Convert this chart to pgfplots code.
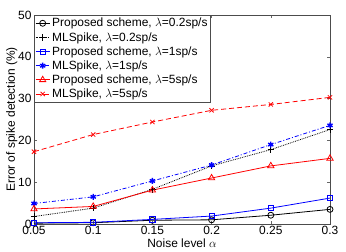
\documentclass[border=0pt]{standalone}
\usepackage{fontspec}
\setmainfont{Liberation Sans}
\usepackage{pgfplots}
\pgfplotsset{compat=1.18}
\begin{document}
\begin{tikzpicture}
\useasboundingbox (-34bp,-28bp) rectangle (312bp,224bp);
\begin{axis}[
  scale only axis,
  width=296bp, height=209bp,
  xmin=0.05, xmax=0.3, ymin=0, ymax=50,
  xtick={0.05,0.1,0.15,0.2,0.25,0.3},
  xticklabels={0.05,0.1,0.15,0.2,0.25,0.3},
  ytick={0,10,20,30,40,50},
  tick align=inside,
  tick style={black!60, thin},
  major tick length=3bp,
  axis line style={black!70},
  /pgf/number format/assume math mode=true,
  tick label style={font=\fontsize{12}{14}\selectfont},
  xticklabel style={yshift=1bp},
  yticklabel style={xshift=1bp},
  xlabel={Noise level $\alpha$},
  ylabel={Error of spike detection (\%)},
  xlabel style={font=\fontsize{12}{14}\selectfont, yshift=3bp},
  ylabel style={font=\fontsize{12}{14}\selectfont, yshift=-6bp},
  legend cell align=left,
  legend style={at={(0,1)}, anchor=north west, draw=black!70,
    font=\fontsize{12}{14}\selectfont, row sep=0bp, inner sep=1bp,
    inner xsep=1bp},
  legend image code/.code={\draw[mark repeat=2,mark phase=2] plot coordinates {(0cm,0cm) (0.25cm,0cm) (0.5cm,0cm)};},
]
\addplot[black, thick, mark=o, mark size=3bp, mark options={solid}] coordinates {
(0.05,0.2) (0.1,0.3) (0.15,0.9) (0.2,1.0) (0.25,2.1) (0.3,3.5)};
\addlegendentry{Proposed scheme, $\lambda$=0.2sp/s}
\addplot[black, thick, densely dotted, mark=+, mark size=3.2bp, mark options={solid}] coordinates {
(0.05,1.8) (0.1,3.8) (0.15,8.3) (0.2,13.9) (0.25,17.8) (0.3,22.6)};
\addlegendentry{MLSpike, $\lambda$=0.2sp/s}
\addplot[blue, thick, mark=square, mark size=2.6bp, mark options={solid}] coordinates {
(0.05,0.3) (0.1,0.4) (0.15,1.1) (0.2,1.9) (0.25,3.8) (0.3,6.2)};
\addlegendentry{Proposed scheme, $\lambda$=1sp/s}
\addplot[blue, thick, dash pattern=on 4bp off 2bp on 1bp off 2bp, mark=asterisk, mark size=3bp, mark options={solid, line width=1.4pt}] coordinates {
(0.05,4.9) (0.1,6.5) (0.15,10.3) (0.2,14.1) (0.25,19.0) (0.3,23.6)};
\addlegendentry{MLSpike, $\lambda$=1sp/s}
\addplot[red, thick, mark=triangle, mark size=3.6bp, mark options={solid}] coordinates {
(0.05,3.6) (0.1,4.2) (0.15,8.1) (0.2,11.0) (0.25,13.9) (0.3,15.7)};
\addlegendentry{Proposed scheme, $\lambda$=5sp/s}
\addplot[red, thick, dash pattern=on 5bp off 3bp, mark=x, mark size=3bp, mark options={solid}] coordinates {
(0.05,17.3) (0.1,21.4) (0.15,24.4) (0.2,27.2) (0.25,28.6) (0.3,30.3)};
\addlegendentry{MLSpike, $\lambda$=5sp/s}
\end{axis}
\end{tikzpicture}
\end{document}
